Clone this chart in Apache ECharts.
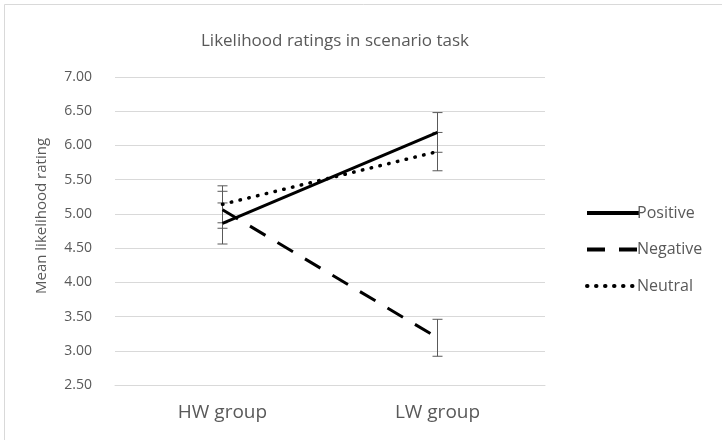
<!DOCTYPE html>
<html>
<head>
<meta charset="utf-8">
<script src="https://cdn.jsdelivr.net/npm/echarts@6/dist/echarts.min.js"></script>
<style>
  html, body { margin: 0; padding: 0; background: #fff; }
  #chart { width: 722px; height: 440px; }
</style>
</head>
<body>
<div id="chart"></div>
<script>
// groups on the x axis
const groups = ['HW group', 'LW group']
// means per condition
const positive = [4.86, 6.19]
const negative = [5.06, 3.19]
const neutral = [5.14, 5.91]
// standard errors per condition
const positiveErr = [0.30, 0.29]
const negativeErr = [0.27, 0.27]
const neutralErr = [0.27, 0.28]

const font = 'Open Sans'
const grey = '#595959'

function errorSeries (name, means, errs) {
  return {
    name: name + ' err',
    type: 'custom',
    silent: true,
    z: 1,
    data: means.map(function (m, i) { return [i, m - errs[i], m + errs[i]] }),
    renderItem: function (params, api) {
      const lo = api.coord([api.value(0), api.value(1)])
      const hi = api.coord([api.value(0), api.value(2)])
      const w = 5
      const style = { stroke: grey, lineWidth: 1 }
      return {
        type: 'group',
        children: [
          { type: 'line', shape: { x1: hi[0], y1: hi[1], x2: lo[0], y2: lo[1] }, style: style },
          { type: 'line', shape: { x1: hi[0] - w, y1: hi[1], x2: hi[0] + w, y2: hi[1] }, style: style },
          { type: 'line', shape: { x1: lo[0] - w, y1: lo[1], x2: lo[0] + w, y2: lo[1] }, style: style }
        ]
      }
    }
  }
}

function lineSeries (name, data, lineStyle) {
  return {
    name: name,
    type: 'line',
    z: 3,
    symbol: 'none',
    showSymbol: false,
    data: data,
    lineStyle: Object.assign({ color: '#000', width: 3 }, lineStyle),
    itemStyle: { color: '#000' }
  }
}

const chart = echarts.init(document.getElementById('chart'))
chart.setOption({
  animation: false,
  graphic: [{
    type: 'rect',
    shape: { x: 4.5, y: 4.5, width: 722, height: 440 },
    style: { fill: 'none', stroke: '#d9d9d9', lineWidth: 1 },
    silent: true
  }],
  title: {
    text: 'Likelihood ratings in scenario task',
    left: 330,
    textAlign: 'center',
    top: 28,
    textStyle: { fontFamily: font, fontSize: 17, fontWeight: 'normal', color: grey }
  },
  legend: {
    orient: 'vertical',
    left: 580,
    top: 200,
    itemWidth: 52,
    itemHeight: 16,
    itemGap: 20.5,
    data: ['Positive', 'Negative', 'Neutral'],
    itemStyle: { opacity: 0 },
    lineStyle: { width: 4 },
    textStyle: { fontFamily: font, fontSize: 16, color: grey, padding: [0, 0, 0, -7] }
  },
  grid: { left: 115, right: 177, top: 77, bottom: 55 },
  xAxis: {
    type: 'category',
    data: groups,
    boundaryGap: true,
    axisLine: { lineStyle: { color: '#d9d9d9' } },
    axisTick: { show: false },
    axisLabel: { fontFamily: font, fontSize: 19, color: grey, margin: 18 }
  },
  yAxis: {
    type: 'value',
    min: 2.5,
    max: 7,
    interval: 0.5,
    name: 'Mean likelihood rating',
    nameLocation: 'middle',
    nameGap: 66,
    nameTextStyle: { fontFamily: font, fontSize: 15, color: grey, padding: [0, 0, 0, 30] },
    axisLine: { show: false },
    axisTick: { show: false },
    splitLine: { lineStyle: { color: '#d9d9d9' } },
    axisLabel: {
      fontFamily: font,
      fontSize: 14,
      color: grey,
      margin: 23,
      formatter: function (v) { return v.toFixed(2) }
    }
  },
  series: [
    errorSeries('Positive', positive, positiveErr),
    errorSeries('Negative', negative, negativeErr),
    errorSeries('Neutral', neutral, neutralErr),
    lineSeries('Positive', positive, { type: 'solid' }),
    lineSeries('Negative', negative, { type: [18, 14] }),
    lineSeries('Neutral', neutral, { type: [0.5, 8.5], cap: 'round', width: 3.5 })
  ]
})
</script>
</body>
</html>
